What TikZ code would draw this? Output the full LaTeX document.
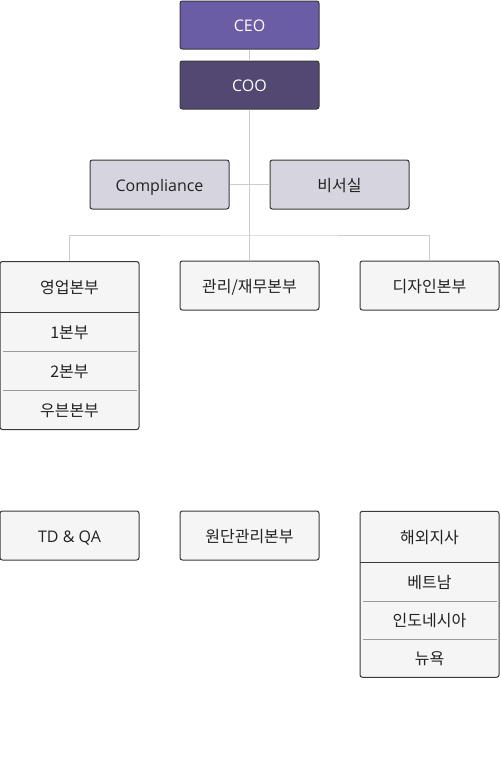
\documentclass[tikz,border=0pt]{standalone}
\usepackage{fontspec}
\setmainfont{Open Sans}
\newfontfamily\kr{Noto Sans CJK KR}
\definecolor{ceofill}{HTML}{6A5DA5}
\definecolor{coofill}{HTML}{524871}
\definecolor{staff}{HTML}{D6D5DF}
\definecolor{boxfill}{HTML}{F5F5F5}
\definecolor{edge}{HTML}{3A3A3A}
\definecolor{conn}{HTML}{CCCCCC}
\definecolor{sep}{HTML}{999999}
\definecolor{txt}{HTML}{222222}
\tikzset{
  orgbox/.style={draw=edge, line width=0.75pt, rounded corners=1.8pt, fill=boxfill,
    minimum width=104.25pt, minimum height=36.75pt, inner sep=0pt,
    text height=1.0em, text depth=0pt,
    font=\fontsize{12pt}{14pt}\selectfont, text=txt},
  topbox/.style={orgbox, text=white},
  tall/.style={draw=edge, line width=0.75pt, rounded corners=1.8pt, fill=boxfill,
    minimum width=104.25pt, inner sep=0pt},
  label/.style={inner sep=0pt, text height=1.0em, text depth=0pt,
    font=\fontsize{12pt}{14pt}\selectfont, text=txt},
  link/.style={draw=conn, line width=0.75pt},
  headsep/.style={draw=edge, line width=0.75pt},
  rowsep/.style={draw=sep, line width=0.6pt}
}
\begin{document}
\begin{tikzpicture}[x=0.75pt, y=-0.75pt]
\useasboundingbox (0,0) rectangle (500,778);
% top
\node[topbox, fill=ceofill, minimum height=36pt] (ceo) at (249.5,25) {CEO};
\node[topbox, fill=coofill, minimum height=36pt] (coo) at (249.5,85) {COO};
% staff
\node[orgbox, fill=staff] (comp) at (159.5,184.5) {Compliance};
\node[orgbox, fill=staff] (sec) at (339.5,184.5) {\kr 비서실};
% second row
\node[tall, minimum height=126pt] (sales) at (69.5,345.5) {};
\node[orgbox] (mgmt) at (249.5,285.5) {\kr 관리/재무본부};
\node[orgbox] (design) at (429.5,285.5) {\kr 디자인본부};
% third row
\node[orgbox] (tdqa) at (69.5,535.5) {TD \& QA};
\node[orgbox] (fabric) at (249.5,535.5) {\kr 원단관리본부};
\node[tall, minimum height=124.5pt] (abroad) at (429.5,594.25) {};
% sales contents
\node[label] (s0) at (69.5,286.5) {\kr 영업본부};
\node[label] (s1) at (69.5,331.5) {\kr 1본부};
\node[label] (s2) at (69.5,370.5) {\kr 2본부};
\node[label] (s3) at (69.5,409.5) {\kr 우븐본부};
\draw[headsep] (0,312) -- (139,312);
\draw[rowsep] (3,351) -- (137,351);
\draw[rowsep] (3,390) -- (137,390);
% abroad contents
\node[label] (a0) at (429.5,536.5) {\kr 해외지사};
\node[label] (a1) at (429.5,581.5) {\kr 베트남};
\node[label] (a2) at (429.5,620) {\kr 인도네시아};
\node[label] (a3) at (429.5,658) {\kr 뉴욕};
\draw[headsep] (360,562) -- (499,562);
\draw[rowsep] (363,601) -- (497,601);
\draw[rowsep] (363,639) -- (497,639);
% connectors
\coordinate (j) at (249.5,235);
\draw[link] (ceo.south) -- (coo.north);
\draw[link] (coo.south) -- (j);
\draw[link] (comp.east) -- (sec.west);
\draw[link] (j) -- (mgmt.north);
\draw[link] (sales.north) |- (j) -| (design.north);
\end{tikzpicture}
\end{document}
